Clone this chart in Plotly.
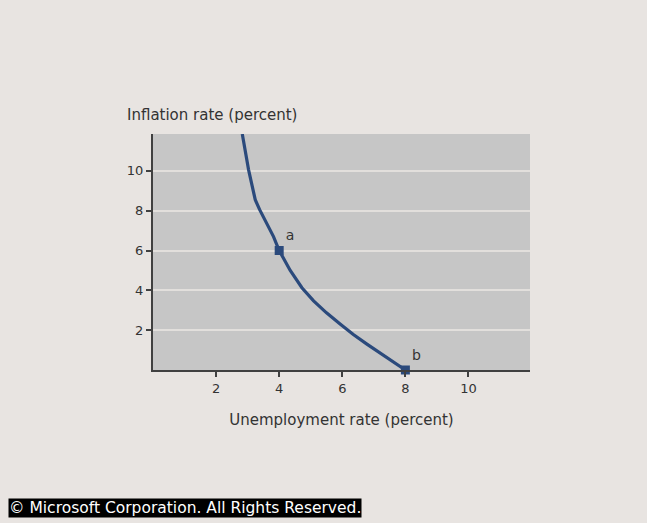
import plotly.graph_objects as go

# Phillips curve: unemployment rate vs inflation rate (percent)
curve_unemployment = [2.83, 3.03, 3.24, 3.38, 3.82, 4.0, 4.35, 4.72, 5.09, 5.5, 5.94, 6.35, 6.78, 7.41, 8.0]
curve_inflation = [11.85, 10.05, 8.55, 8.05, 6.7, 6.0, 5.0, 4.13, 3.47, 2.87, 2.3, 1.78, 1.3, 0.63, 0.0]

point_labels = ["a", "b"]
point_unemployment = [4.0, 8.0]
point_inflation = [6.0, 0.0]

x_ticks = [2, 4, 6, 8, 10]
y_ticks = [2, 4, 6, 8, 10]

line_color = "#2b4a7c"
paper_color = "#e8e4e1"
plot_color = "#c6c6c6"
grid_color = "#e2dfdc"
axis_color = "#404040"
text_color = "#333333"
font_family = "DejaVu Sans, Verdana, sans-serif"

fig = go.Figure()

fig.add_trace(go.Scatter(
    x=curve_unemployment, y=curve_inflation,
    mode="lines",
    line=dict(color=line_color, width=3.2),
    hoverinfo="skip",
    showlegend=False,
    cliponaxis=True,
))

fig.add_trace(go.Scatter(
    x=point_unemployment, y=point_inflation,
    mode="markers+text",
    marker=dict(symbol="square", size=9, color=line_color),
    text=point_labels,
    textposition="top right",
    textfont=dict(family=font_family, size=14, color=text_color),
    showlegend=False,
    cliponaxis=False,
))

fig.update_layout(
    width=647, height=523,
    margin=dict(l=153, r=117, t=134, b=153),
    paper_bgcolor=paper_color,
    plot_bgcolor=plot_color,
    font=dict(family=font_family, size=13, color=text_color),
    xaxis=dict(
        range=[0, 11.95],
        tickvals=x_ticks,
        ticks="outside", ticklen=5, tickwidth=1.5, tickcolor=axis_color,
        showline=True, linecolor=axis_color, linewidth=2,
        showgrid=False, zeroline=False,
        tickfont=dict(size=13, color=text_color),
        title=dict(text="Unemployment rate (percent)",
                   font=dict(size=15, color=text_color), standoff=20),
    ),
    yaxis=dict(
        range=[0, 11.85],
        tickvals=y_ticks,
        ticks="outside", ticklen=5, tickwidth=1.5, tickcolor=axis_color,
        showline=True, linecolor=axis_color, linewidth=2,
        showgrid=True, gridcolor=grid_color, gridwidth=2,
        zeroline=False,
        tickfont=dict(size=13, color=text_color),
    ),
    annotations=[
        dict(text="Inflation rate (percent)", xref="paper", yref="paper",
             x=-0.074, y=1.035, xanchor="left", yanchor="bottom",
             showarrow=False, font=dict(size=15, color=text_color)),
        dict(text="\u00a9 Microsoft Corporation. All Rights Reserved.",
             xref="paper", yref="paper", x=-0.385, y=-0.585,
             xanchor="left", yanchor="middle", showarrow=False,
             bgcolor="#000000", borderpad=0,
             font=dict(size=15.5, color="#ffffff")),
    ],
)

fig.write_html("out.html")
